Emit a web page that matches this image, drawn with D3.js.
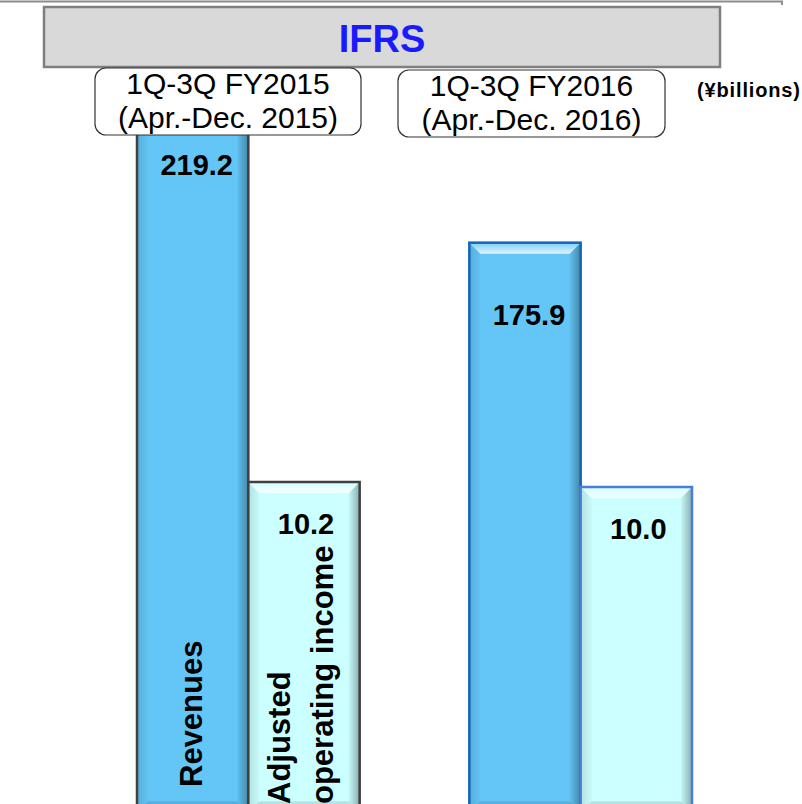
<!DOCTYPE html>
<html>
<head>
<meta charset="utf-8">
<script src="https://cdn.jsdelivr.net/npm/d3@7"></script>
<style>
  body { margin: 0; background: #fff; }
  svg { display: block; font-family: "Liberation Sans", Arial, sans-serif; }
</style>
</head>
<body>
<div id="chart"></div>
<script>
// data
var periods = ["1Q-3Q FY2015", "1Q-3Q FY2016"];
var periodRanges = ["(Apr.-Dec. 2015)", "(Apr.-Dec. 2016)"];
var seriesKeys = ["revenues", "opIncome"];
var revenues = [219.2, 175.9];
var opIncome = [10.2, 10.0];
var seriesLabels = [["Revenues"], ["Adjusted", "operating income"]];
var title = "IFRS";
var unitLabel = "(\u00a5billions)";

var width = 802, height = 804;
var barBottom = 812, bevel = 11;

var svg = d3.select("#chart").append("svg")
    .attr("width", width)
    .attr("height", height);

// two value scales, the slide uses separate ones for revenue and income
var yRev = d3.scaleLinear().domain([0, 250]).range([852, -14]);
var yOp = d3.scaleLinear().domain([0, 12]).range([737, 437]);
var yScales = { revenues: yRev, opIncome: yOp };

var x0 = d3.scaleBand().domain(periods).range([137, 692]).paddingInner(0.33);
var x1 = d3.scaleBand().domain(seriesKeys).range([0, x0.bandwidth()]);

var fills = { revenues: "#63c6f6", opIncome: "#ccffff" };
var borders = [
    { revenues: "#404040", opIncome: "#404040" },
    { revenues: "#1565b5", opIncome: "#4a7fd8" }
];

var rows = [];
periods.forEach(function(p, i) {
    rows.push({ period: p, pi: i, key: "revenues", value: revenues[i] });
    rows.push({ period: p, pi: i, key: "opIncome", value: opIncome[i] });
});

// gradients for the bevel look
var defs = svg.append("defs");
function grad(id, x2, y2, stops) {
    var g = defs.append("linearGradient").attr("id", id)
        .attr("x1", 0).attr("y1", 0).attr("x2", x2).attr("y2", y2);
    stops.forEach(function(s) {
        g.append("stop").attr("offset", s[0]).attr("stop-color", s[1]).attr("stop-opacity", s[2]);
    });
}
grad("bvTop", 0, 1, [[0, "#fff", 0.15], [1, "#fff", 0.8]]);
grad("bvLeft", 1, 0, [[0, "#000", 0.12], [1, "#000", 0.02]]);
grad("bvRight", 1, 0, [[0, "#000", 0.03], [1, "#000", 0.32]]);
grad("bvBottom", 0, 1, [[0, "#000", 0.08], [1, "#000", 0.25]]);

// top rule
svg.append("path")
    .attr("d", "M0,1.5H782V5")
    .attr("fill", "none")
    .attr("stroke", "#8c8c8c")
    .attr("stroke-width", 2);

var bars = svg.selectAll("g.bar")
    .data(rows)
    .enter()
    .append("g")
    .attr("class", "bar");

bars.each(function(d) {
    var g = d3.select(this);
    var x = x0(d.period) + x1(d.key);
    var w = x1.bandwidth();
    var y = yScales[d.key](d.value);
    var h = barBottom - y;
    var b = bevel;

    g.append("rect")
        .attr("x", x).attr("y", y).attr("width", w).attr("height", h)
        .attr("fill", fills[d.key]);

    var pt = function(arr) { return arr.map(function(p) { return p.join(","); }).join(" "); };
    g.append("polygon").attr("fill", "url(#bvLeft)")
        .attr("points", pt([[x, y], [x + b, y + b], [x + b, y + h - b], [x, y + h]]));
    g.append("polygon").attr("fill", "url(#bvRight)")
        .attr("points", pt([[x + w, y], [x + w - b, y + b], [x + w - b, y + h - b], [x + w, y + h]]));
    g.append("polygon").attr("fill", "url(#bvBottom)")
        .attr("points", pt([[x, y + h], [x + b, y + h - b], [x + w - b, y + h - b], [x + w, y + h]]));
    g.append("polygon").attr("fill", "url(#bvTop)")
        .attr("points", pt([[x, y], [x + w, y], [x + w - b, y + b], [x + b, y + b]]));

    g.append("rect")
        .attr("x", x).attr("y", y).attr("width", w).attr("height", h)
        .attr("fill", "none")
        .attr("stroke", borders[d.pi][d.key])
        .attr("stroke-width", 2.5);

    // value label
    var off = d.key == "revenues" ? 82 : 52;
    g.append("text")
        .attr("x", x + w / 2 + (d.key == "revenues" ? 4 : 2))
        .attr("y", y + off)
        .attr("text-anchor", "middle")
        .attr("font-size", 29)
        .attr("font-weight", "bold")
        .attr("fill", "#000")
        .text(d.value.toFixed(1));
});

// rotated series names, only under the first period
var labelBase = { revenues: [202], opIncome: [290, 333] };
var labelStart = { revenues: 787, opIncome: 804 };
seriesKeys.forEach(function(k, si) {
    seriesLabels[si].forEach(function(line, li) {
        var bx = labelBase[k][li];
        svg.append("text")
            .attr("transform", "translate(" + bx + "," + labelStart[k] + ") rotate(-90)")
            .attr("font-size", 31)
            .attr("font-weight", "bold")
            .attr("fill", "#000")
            .text(line);
    });
});

// title banner
svg.append("rect")
    .attr("x", 44).attr("y", 7).attr("width", 676).attr("height", 60)
    .attr("fill", "#d9d9d9")
    .attr("stroke", "#7f7f7f")
    .attr("stroke-width", 2.5);
svg.append("text")
    .attr("x", 382).attr("y", 52)
    .attr("text-anchor", "middle")
    .attr("font-size", 38)
    .attr("font-weight", "bold")
    .attr("fill", "#1a1aff")
    .text(title);

// period header boxes
var headerBoxes = [
    { x: 95, y: 68, w: 266, h: 67 },
    { x: 398, y: 70, w: 267, h: 67 }
];
periods.forEach(function(p, i) {
    var hb = headerBoxes[i];
    svg.append("rect")
        .attr("x", hb.x).attr("y", hb.y).attr("width", hb.w).attr("height", hb.h)
        .attr("rx", 11).attr("ry", 11)
        .attr("fill", "#fff")
        .attr("stroke", "#333")
        .attr("stroke-width", 1.2);
    svg.append("text")
        .attr("x", hb.x + hb.w / 2).attr("y", hb.y + 26)
        .attr("text-anchor", "middle")
        .attr("font-size", 30)
        .attr("fill", "#000")
        .text(p);
    svg.append("text")
        .attr("x", hb.x + hb.w / 2).attr("y", hb.y + 60)
        .attr("text-anchor", "middle")
        .attr("font-size", 30)
        .attr("fill", "#000")
        .text(periodRanges[i]);
});

svg.append("text")
    .attr("x", 697).attr("y", 97)
    .attr("font-size", 20)
    .attr("font-weight", "bold")
    .attr("fill", "#000")
    .attr("textLength", 103)
    .text(unitLabel);
</script>
</body>
</html>
